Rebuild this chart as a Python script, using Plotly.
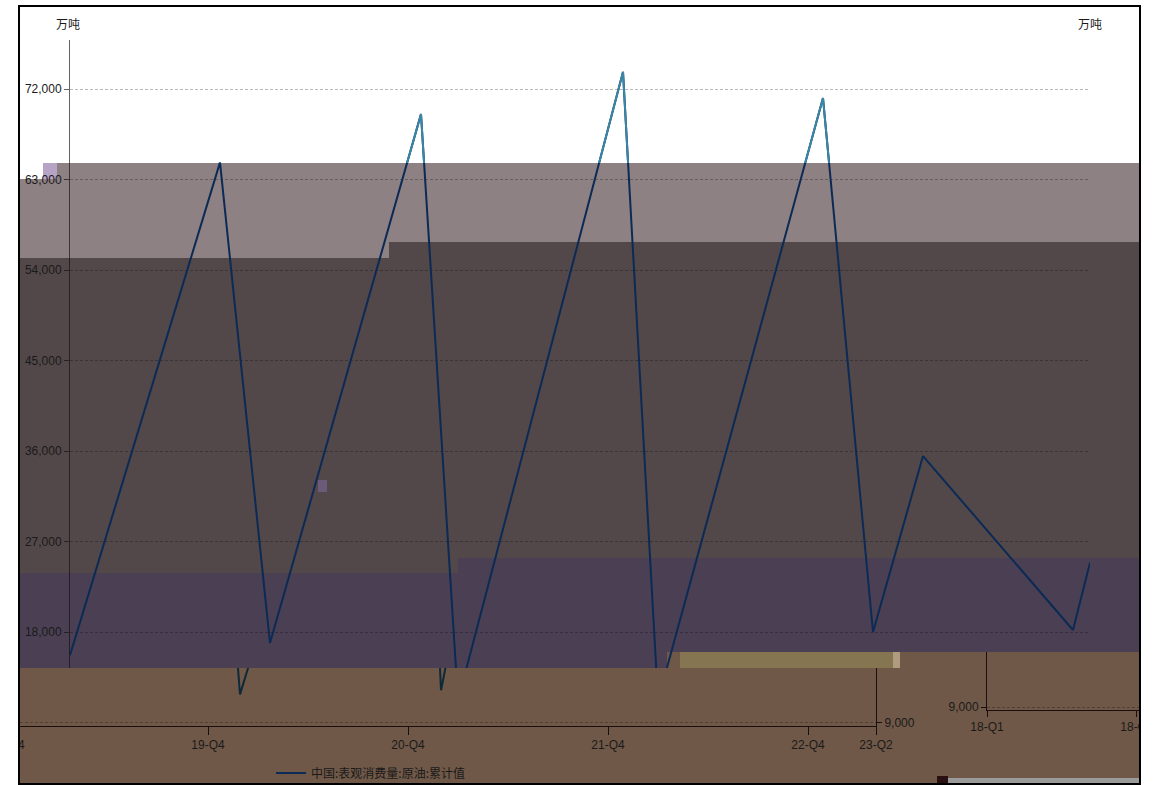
import plotly.graph_objects as go

# ---------------- data ----------------
# x positions are quarter indices (18-Q1 = 0, 19-Q4 = 7, ...)
series_name = "中国:表观消费量:原油:累计值"
quarter_pos = [4.24, 7.24, 8.24, 11.26, 12.0, 15.3, 16.0, 19.3, 20.3, 21.3, 24.3, 24.64]
values = [15700, 64700, 16900, 69500, 11200, 73700, 11200, 71100, 18000, 35500, 18200, 24900]

# glitch fragments visible in the lower strip
glitch1_pos = [7.44, 7.64, 8.04]
glitch1_val = [24800, 11800, 18300]
glitch2_pos = [11.62, 11.66, 11.86]
glitch2_val = [16600, 12200, 17200]

y_ticks = [18000, 27000, 36000, 45000, 54000, 63000, 72000]
lower_tick_pos = [3, 7, 11, 15, 19, 20.36]
lower_tick_text = ["18-Q4", "19-Q4", "20-Q4", "21-Q4", "22-Q4", "23-Q2"]
mini_tick_pos = [0, 1]
mini_tick_text = ["18-Q1", "18-Q2"]
unit = "万吨"

# ---------------- layout helpers ----------------
W, H = 1153, 785
def px(x):
    return x / W
def py(y):
    return 1 - y / H

NUM_FONT = dict(family="Liberation Sans, Arial, sans-serif", size=12, color="#1a1a1a")
CJK_FONT = dict(family="Noto Sans CJK SC, sans-serif", size=12, color="#1a1a1a")
GRID = "rgba(0,0,0,0.27)"
AXLINE = "rgba(20,10,10,0.65)"

NAVY = "#0b2a55"
TEAL = "#3a86a6"

fig = go.Figure()

# main series (dark region)
fig.add_trace(go.Scatter(x=quarter_pos, y=values, mode="lines", name=series_name,
                         line=dict(color=NAVY, width=2), xaxis="x", yaxis="y",
                         showlegend=True, hoverinfo="skip"))
# same series drawn again for the white top band (appears lighter there)
fig.add_trace(go.Scatter(x=quarter_pos, y=values, mode="lines", name=series_name,
                         line=dict(color=TEAL, width=2), xaxis="x3", yaxis="y3",
                         showlegend=False, hoverinfo="skip"))
# glitch fragments in lower strip
fig.add_trace(go.Scatter(x=glitch1_pos, y=glitch1_val, mode="lines", showlegend=False,
                         line=dict(color="#0d2a3a", width=2), xaxis="x4", yaxis="y4", hoverinfo="skip"))
fig.add_trace(go.Scatter(x=glitch2_pos, y=glitch2_val, mode="lines", showlegend=False,
                         line=dict(color="#0d2a3a", width=2), xaxis="x4", yaxis="y4", hoverinfo="skip"))
# empty trace to anchor mini axes
fig.add_trace(go.Scatter(x=[], y=[], xaxis="x5", yaxis="y5", showlegend=False))

main_range = [14420, 76873]
top_range = [64641, 76873]
x_range = [4.24, 24.64]

fig.update_layout(
    width=W, height=H,
    margin=dict(l=0, r=0, t=0, b=0, autoexpand=False),
    paper_bgcolor="white",
    plot_bgcolor="rgba(0,0,0,0)",
    showlegend=True,
    legend=dict(orientation="h", x=px(271), xanchor="left", y=py(773), yanchor="middle",
                bgcolor="rgba(0,0,0,0)", font=CJK_FONT, itemwidth=30),
    xaxis=dict(domain=[px(70), px(1090)], range=x_range, visible=False),
    yaxis=dict(domain=[py(668), py(40)], range=main_range, anchor="x",
               tickvals=y_ticks, tickformat=",", showline=True, linecolor=AXLINE, linewidth=1,
               ticks="outside", ticklen=5, tickcolor=AXLINE, tickfont=NUM_FONT,
               showgrid=True, gridcolor=GRID, griddash="3px,2px", gridwidth=1, zeroline=False),
    yaxis2=dict(overlaying="y", side="right", range=main_range, anchor="x",
                tickvals=y_ticks, tickformat=",", showline=True, linecolor=AXLINE, linewidth=1,
                ticks="outside", ticklen=5, tickcolor=AXLINE, tickfont=NUM_FONT,
                showgrid=False, zeroline=False),
    xaxis3=dict(domain=[px(70), px(1090)], range=x_range, visible=False, anchor="y3"),
    yaxis3=dict(domain=[py(163), py(40)], range=top_range, visible=False, anchor="x3"),
    xaxis4=dict(domain=[0, px(876)], range=[2.84, 20.36], anchor="y4",
                tickvals=lower_tick_pos, ticktext=lower_tick_text, showline=True,
                linecolor="#1a0e0e", linewidth=1, ticks="outside", ticklen=8, tickcolor="#1a0e0e",
                tickfont=NUM_FONT, showgrid=False, zeroline=False, ticklabeloverflow="allow"),
    yaxis4=dict(domain=[py(726), py(668)], range=[8650, 14420], anchor="x4", side="right",
                tickvals=[9000], tickformat=",", showline=True, linecolor="#1a0e0e", linewidth=1,
                ticks="outside", ticklen=5, tickcolor="#1a0e0e", tickfont=NUM_FONT,
                showgrid=True, gridcolor=GRID, griddash="3px,2px", zeroline=False),
    xaxis5=dict(domain=[px(987), 1.0], range=[0, 1.107], anchor="y5",
                tickvals=mini_tick_pos, ticktext=mini_tick_text, showline=True,
                linecolor="#1a0e0e", linewidth=1, ticks="outside", ticklen=6, tickcolor="#1a0e0e",
                tickfont=NUM_FONT, showgrid=False, zeroline=False, ticklabeloverflow="allow"),
    yaxis5=dict(domain=[py(710), py(652)], range=[8800, 12700], anchor="x5", side="left",
                tickvals=[9000], tickformat=",", showline=True, linecolor="#1a0e0e", linewidth=1,
                ticks="outside", ticklen=5, tickcolor="#1a0e0e", tickfont=NUM_FONT,
                showgrid=True, gridcolor=GRID, griddash="3px,2px", zeroline=False),
)

# ---------------- background bands (glitched panels) ----------------
MAUVE = "#8d8183"
DARK = "#52484a"
PURPLE = "#4b4053"
BROWN = "#6f5847"
OLIVE = "#857550"

def band(x0, y0, x1, y1, color, layer="below"):
    fig.add_shape(type="rect", xref="paper", yref="paper",
                  x0=px(x0), x1=px(x1), y0=py(y1), y1=py(y0),
                  fillcolor=color, line=dict(width=0), layer=layer)

# stacked: each layer extends to the bottom so there are no seams
band(19, 179, 58, 785, MAUVE)
band(57, 163, 1140, 785, MAUVE)
band(43, 163, 57, 179, "#b7a3c6")
band(19, 258, 390, 785, DARK)
band(389, 242, 1140, 785, DARK)
band(19, 573, 459, 785, PURPLE)
band(458, 558, 1140, 785, PURPLE)
band(19, 668, 1140, 785, BROWN)
band(667, 652, 1140, 785, BROWN)
band(680, 652, 893, 668, OLIVE)
band(893, 652, 900, 668, "#b09a80")
band(318, 480, 327, 492, "#6b5a78")

# covers / frame
band(1085, 652, 1095, 668, BROWN, layer="above")
band(0, 0, 18, 785, "white", layer="above")
band(1141, 0, 1153, 785, "white", layer="above")
band(948, 778, 1140, 784, "#9a9a9a", layer="above")
band(937, 776, 948, 784, "#2a1010", layer="above")
fig.add_shape(type="rect", xref="paper", yref="paper",
              x0=px(19), x1=px(1140), y0=py(784), y1=py(6),
              line=dict(color="black", width=2), fillcolor="rgba(0,0,0,0)", layer="above")

# unit labels
for xx in (68, 1090):
    fig.add_annotation(text=unit, xref="paper", yref="paper", x=px(xx), y=py(24),
                       showarrow=False, font=CJK_FONT, xanchor="center", yanchor="middle")

fig.write_html("out.html", config={"displayModeBar": False},
               post_script="document.body.style.margin='0';document.body.style.overflow='hidden';")
